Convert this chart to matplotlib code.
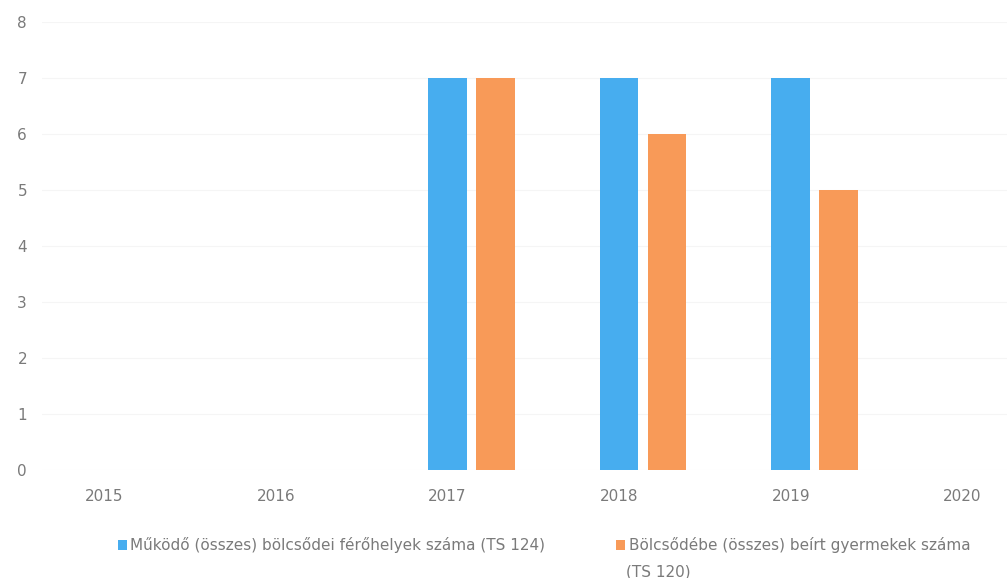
import numpy as np
import matplotlib.pyplot as plt

# adatok
evek = ['2015', '2016', '2017', '2018', '2019', '2020']
ferohelyek = [0, 0, 7, 7, 7, 0]
beirt = [0, 0, 7, 6, 5, 0]
nev1 = 'Működő (összes) bölcsődei férőhelyek száma (TS 124)'
nev2 = 'Bölcsődébe (összes) beírt gyermekek száma'
nev2_folyt = '(TS 120)'

szurke = '#7a7a7a'
kek = '#47adef'
narancs = '#f89a58'

fig = plt.figure(figsize=(10.07, 5.78), dpi=100)
ax = fig.add_axes([0.042, 0.187, 0.958, 0.775])

x = np.arange(len(evek))
w = 0.225
b1 = ax.bar(x - 0.14, ferohelyek, w, color=kek, label=nev1, zorder=3)
b2 = ax.bar(x + 0.14, beirt, w, color=narancs, label=nev2, zorder=3)

ax.set_xlim(-0.5, 5.12)
ax.set_ylim(0, 8)
ax.set_yticks(range(0, 9))
ax.set_xticks(x - 0.14)
ax.set_xticklabels(evek)
ax.tick_params(length=0, colors=szurke, labelsize=11)
ax.tick_params(axis='y', pad=11)
ax.tick_params(axis='x', pad=14)
ax.yaxis.grid(True, color='#f5f5f5', linewidth=0.8, zorder=0)
for s in ax.spines.values():
    s.set_visible(False)

# jelmagyarazat, kulon a ket sorozat
l1 = fig.legend(handles=[b1], labels=[nev1], frameon=False,
                loc='center left', bbox_to_anchor=(0.117, 0.057),
                handlelength=0.6, handleheight=0.6, handletextpad=0.2,
                fontsize=11, labelcolor=szurke, borderpad=0, borderaxespad=0)
l2 = fig.legend(handles=[b2], labels=[nev2], frameon=False,
                loc='center left', bbox_to_anchor=(0.612, 0.057),
                handlelength=0.6, handleheight=0.6, handletextpad=0.2,
                fontsize=11, labelcolor=szurke, borderpad=0, borderaxespad=0)
fig.text(0.622, 0.010, nev2_folyt, fontsize=11, color=szurke, va='center')

fig.savefig('out.png', dpi=100)
